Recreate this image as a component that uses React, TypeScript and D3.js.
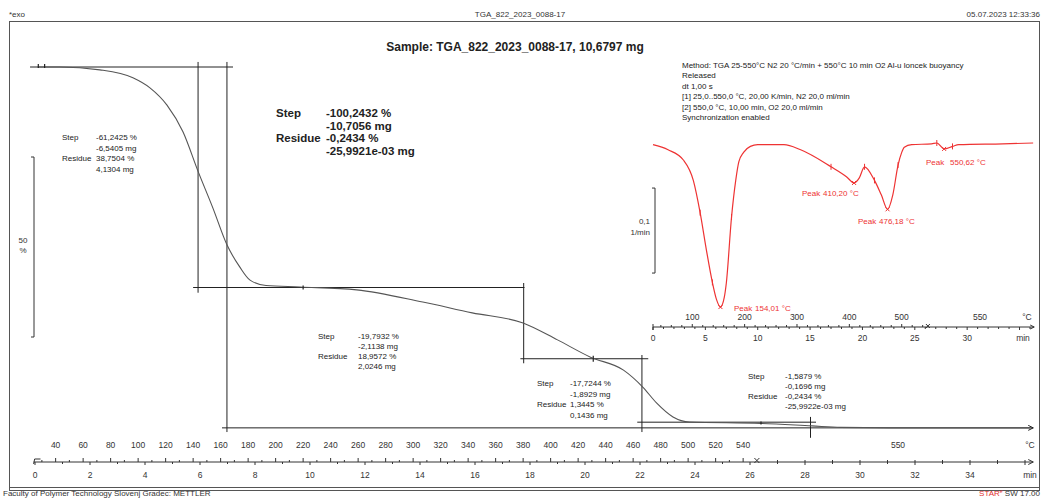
import React from 'react';
import * as d3 from 'd3';

// ---- TGA curve (time in min, mass in %)
const tgaTime = [0.1, 0.9, 2.36, 3.56, 4.18, 4.8, 5.38, 5.93, 6.47, 6.98, 7.45, 7.82, 8.4, 9.64, 11.7, 14.1, 15.9, 17.75, 19.0, 20.2, 21.4, 22.1, 22.6, 23.2, 23.8, 26.4, 28.25, 29.3, 31.5, 36.2];
const tgaMass = [100, 100, 99.2, 97.0, 94.2, 89.4, 82.0, 71.0, 60.8, 50.6, 44.4, 40.8, 39.3, 38.9, 38.1, 34.7, 31.7, 28.9, 24.2, 19.4, 15.8, 11.1, 6.7, 2.8, 1.4, 1.0, 0.3, -0.1, -0.24, -0.24];

// ---- DTG curve (time in min, rate in 1/min)
const dtgTime = [0, 1.44, 2.9, 3.85, 4.5, 5.1, 5.67, 6.06, 6.44, 6.8, 7.0, 7.5, 7.9, 8.2, 8.65, 9.3, 10, 12.5, 14.1, 17.0, 18.5, 19.2, 19.7, 20.2, 21.15, 21.8, 22.4, 22.9, 23.4, 23.75, 24.0, 24.7, 26.6, 27.1, 27.8, 28.6, 29.2, 33.4, 36.3];
const dtgRate = [-0.002, -0.008, -0.02, -0.044, -0.082, -0.126, -0.164, -0.184, -0.193, -0.182, -0.165, -0.087, -0.044, -0.022, -0.011, -0.004, -0.002, -0.002, -0.008, -0.028, -0.04, -0.047, -0.041, -0.028, -0.044, -0.061, -0.078, -0.061, -0.026, -0.011, -0.005, -0.002, -0.001, 0, -0.007, -0.004, -0.002, -0.001, 0];
const dtgMarkerIdx = [4, 6, 11, 19, 23, 24, 28, 33, 35];

const peakTemps = ['154,01 °C', '410,20 °C', '476,18 °C', '550,62 °C'];
const peakTimes = [6.44, 19.2, 22.4, 27.8];

// ---- axes
const mainTempLabels = [40, 60, 80, 100, 120, 140, 160, 180, 200, 220, 240, 260, 280, 300, 320, 340, 360, 380, 400, 420, 440, 460, 480, 500, 520, 540];
const mainMinLabels = [0, 2, 4, 6, 8, 10, 12, 14, 16, 18, 20, 22, 24, 26, 28, 30, 32, 34];
const insetTempLabels = [100, 200, 300, 400, 500];
const insetMinLabels = [0, 5, 10, 15, 20, 25, 30];

// ---- step evaluations
const stepSmall1 = ['-61,2425 %', '-6,5405 mg', '38,7504 %', '4,1304 mg'];
const stepBig = ['-100,2432 %', '-10,7056 mg', '-0,2434 %', '-25,9921e-03 mg'];
const stepSmall2 = ['-19,7932 %', '-2,1138 mg', '18,9572 %', '2,0246 mg'];
const stepSmall3 = ['-17,7244 %', '-1,8929 mg', '1,3445 %', '0,1436 mg'];
const stepSmall4 = ['-1,5879 %', '-0,1696 mg', '-0,2434 %', '-25,9922e-03 mg'];

const methodLines = [
  'Method: TGA 25-550°C N2 20 °C/min + 550°C 10 min O2 Al-u loncek buoyancy',
  'Released',
  'dt 1,00 s',
  '[1] 25,0..550,0 °C, 20,00 K/min, N2 20,0 ml/min',
  '[2] 550,0 °C, 10,00 min, O2 20,0 ml/min',
  'Synchronization enabled',
];

const timeOf = (T: number) => (T - 25) / 20;

const FONT = '"Liberation Sans", Arial, sans-serif';

function StepBlock({ x, y, vals, dx, lh, size, bold }: any) {
  const fw = bold ? 'bold' : 'normal';
  return (
    <g fontSize={size} fontWeight={fw} fill="#222">
      <text x={x} y={y}>Step</text>
      <text x={x} y={y + 2 * lh}>Residue</text>
      {vals.map((v: string, i: number) => (
        <text key={i} x={x + dx} y={y + i * lh}>{v}</text>
      ))}
    </g>
  );
}

export default function App() {
  const W = 1046, H = 498;
  const x = d3.scaleLinear().domain([0, 36]).range([35, 1025]);
  const y = d3.scaleLinear().domain([0, 100]).range([427, 67]);
  const xi = d3.scaleLinear().domain([0, 36]).range([653, 1030]);
  const yi = d3.scaleLinear().domain([-0.2, 0]).range([313, 143]);

  const tgaLine = d3.line<number>().x((d, i) => x(tgaTime[i])).y(d => y(d)).curve(d3.curveMonotoneX);
  const dtgLine = d3.line<number>().x((d, i) => xi(dtgTime[i])).y(d => yi(d)).curve(d3.curveMonotoneX);

  const axY = 462;
  const axYi = 327;
  const tMax = timeOf(550);

  const minorTemps = d3.range(30, 550, 10);
  const insetTemps = d3.range(40, 550, 20);

  return (
    <svg width={W} height={H} style={{ position: 'absolute', left: 0, top: 0, background: '#fff' }} fontFamily={FONT}>
      <rect x={0} y={0} width={W} height={H} fill="#fff" />
      {/* header */}
      <text x={9} y={17} fontSize={8} fill="#333">*exo</text>
      <text x={520} y={17} fontSize={8} fill="#333" textAnchor="middle">TGA_822_2023_0088-17</text>
      <text x={1040} y={17} fontSize={8} fill="#333" textAnchor="end">05.07.2023 12:33:36</text>
      {/* frame */}
      <rect x={9.5} y={21.5} width={1030} height={466} fill="none" stroke="#555" strokeWidth={1} />
      <line x1={9.5} x2={1039.5} y1={490.5} y2={490.5} stroke="#555" />
      <line x1={9.5} x2={9.5} y1={487} y2={491} stroke="#555" />
      <line x1={1039.5} x2={1039.5} y1={487} y2={491} stroke="#555" />
      <text x={3} y={496} fontSize={8} fill="#333">Faculty of Polymer Technology Slovenj Gradec: METTLER</text>
      <text x={1040} y={496} fontSize={8} fill="#333" textAnchor="end"><tspan fill="#e03030">STAR</tspan><tspan fill="#e03030" fontSize={5} dy={-3}>e</tspan><tspan dy={3}> SW 17.00</tspan></text>

      <text x={515} y={51} fontSize={12} fontWeight="bold" textAnchor="middle" fill="#222">Sample: TGA_822_2023_0088-17, 10,6797 mg</text>

      {/* 50 % scale bar */}
      <path d={`M31,${y(75)} H34 V${y(25)} H31`} fill="none" stroke="#333" />
      <text x={23} y={243} fontSize={8} fill="#333" textAnchor="middle">50</text>
      <text x={23} y={253} fontSize={8} fill="#333" textAnchor="middle">%</text>

      {/* step construction lines */}
      <g stroke="#222" strokeWidth={1} fill="none">
        <line x1={x(-0.18)} x2={x(7.2)} y1={y(100)} y2={y(100)} />
        <line x1={x(5.93)} x2={x(5.93)} y1={y(101.4)} y2={y(37.3)} />
        <line x1={x(6.98)} x2={x(6.98)} y1={y(101.4)} y2={y(-1.4)} />
        <line x1={x(5.75)} x2={x(17.8)} y1={y(38.75)} y2={y(38.75)} />
        <line x1={x(17.77)} x2={x(17.77)} y1={y(40)} y2={y(17.7)} />
        <line x1={x(17.65)} x2={x(22.3)} y1={y(18.96)} y2={y(18.96)} />
        <line x1={x(22.07)} x2={x(22.07)} y1={y(20)} y2={y(-1.4)} />
        <line x1={x(21.9)} x2={x(28.4)} y1={y(1.34)} y2={y(1.34)} />
        <line x1={x(28.2)} x2={x(28.2)} y1={y(2.8)} y2={y(-3)} />
        <line x1={x(6.8)} x2={x(36.3)} y1={y(-0.24)} y2={y(-0.24)} />
      </g>
      <path d={`M${x(36.3) - 5},${y(-0.24) - 2.5} L${x(36.3)},${y(-0.24)} L${x(36.3) - 5},${y(-0.24) + 2.5}`} fill="none" stroke="#222" />
      {/* TGA curve */}
      <path d={tgaLine(tgaMass) || ''} fill="none" stroke="#555" strokeWidth={1.1} />
      {/* markers */}
      <g stroke="#222" strokeWidth={1.2}>
        <line x1={x(0.12)} x2={x(0.12)} y1={y(100) - 3} y2={y(100) + 1} />
        <line x1={x(0.35)} x2={x(0.35)} y1={y(100) - 3} y2={y(100) + 1} />
        <line x1={x(9.75)} x2={x(9.75)} y1={y(38.75) - 2} y2={y(38.75) + 2} />
        <line x1={x(20.3)} x2={x(20.3)} y1={y(18.96) - 3} y2={y(18.96) + 3} />
        <line x1={x(26.4)} x2={x(26.4)} y1={y(1.0) - 2} y2={y(1.0) + 1} />
      </g>

      {/* step texts */}
      <g fontFamily={FONT}>
        <StepBlock x={62} y={140} vals={stepSmall1} dx={34} lh={10.7} size={8} />
        <StepBlock x={276} y={117} vals={stepBig} dx={50} lh={12.7} size={11.5} bold />
        <StepBlock x={318} y={339} vals={stepSmall2} dx={40} lh={10} size={8} />
        <StepBlock x={537} y={386} vals={stepSmall3} dx={33} lh={10.5} size={8} />
        <StepBlock x={748} y={379} vals={stepSmall4} dx={37} lh={10} size={8} />
      </g>

      {/* method text */}
      <g fontSize={8} fill="#222">
        {methodLines.map((l, i) => (
          <text key={i} x={682} y={68 + i * 10.4}>{l}</text>
        ))}
      </g>

      {/* DTG inset */}
      <path d={dtgLine(dtgRate) || ''} fill="none" stroke="#ee3333" strokeWidth={1.2} />
      <g stroke="#ee3333" strokeWidth={1}>
        {dtgMarkerIdx.map(i => (
          <line key={i} x1={xi(dtgTime[i])} x2={xi(dtgTime[i])} y1={yi(dtgRate[i]) - 3} y2={yi(dtgRate[i]) + 3} />
        ))}
        {peakTimes.map((t, i) => {
          const idx = dtgTime.indexOf(t);
          const py = yi(dtgRate[idx]);
          return <path key={i} d={`M${xi(t) - 2},${py - 2} L${xi(t) + 2},${py + 2} M${xi(t) + 2},${py - 2} L${xi(t) - 2},${py + 2}`} />;
        })}
      </g>
      <g fontSize={8} fill="#ee3333">
        <text x={734} y={311}>Peak</text><text x={755} y={311}>{peakTemps[0]}</text>
        <text x={802} y={196}>Peak</text><text x={823} y={196}>{peakTemps[1]}</text>
        <text x={858} y={224}>Peak</text><text x={879} y={224}>{peakTemps[2]}</text>
        <text x={926} y={165}>Peak</text><text x={950} y={165}>{peakTemps[3]}</text>
      </g>
      {/* DTG scale bar */}
      <path d={`M652,${yi(-0.053)} H655 V${yi(-0.153)} H652`} fill="none" stroke="#333" />
      <text x={650} y={224} fontSize={8} fill="#333" textAnchor="end">0,1</text>
      <text x={650} y={235} fontSize={8} fill="#333" textAnchor="end">1/min</text>

      {/* inset axis */}
      <g stroke="#333" strokeWidth={1}>
        <line x1={xi(0)} x2={xi(36.4)} y1={axYi} y2={axYi} />
        <path d={`M${xi(36.4) - 4},${axYi - 2} L${xi(36.4)},${axYi} L${xi(36.4) - 4},${axYi + 2}`} fill="none" />
        {d3.range(0, 37, 1).map(t => (
          <line key={'it' + t} x1={xi(t)} x2={xi(t)} y1={axYi} y2={axYi + (t % 5 === 0 ? 3 : 2)} />
        ))}
        {insetTemps.map(T => (
          <line key={'iT' + T} x1={xi(timeOf(T))} x2={xi(timeOf(T))} y1={axYi} y2={axYi - (T % 100 === 0 ? 3 : 2)} />
        ))}
        <path d={`M${xi(tMax) - 2},${axYi - 3} L${xi(tMax) + 2},${axYi + 1} M${xi(tMax) + 2},${axYi - 3} L${xi(tMax) - 2},${axYi + 1}`} fill="none" />
        <line x1={xi(0)} x2={xi(0)} y1={axYi - 3} y2={axYi + 3} />
      </g>
      <g fontSize={8.5} fill="#333" textAnchor="middle">
        {insetTempLabels.map(T => <text key={'itl' + T} x={xi(timeOf(T))} y={320}>{T}</text>)}
        <text x={980} y={320}>550</text>
        <text x={1027} y={320}>°C</text>
        {insetMinLabels.map(t => <text key={'iml' + t} x={xi(t)} y={341}>{t}</text>)}
        <text x={1023} y={341}>min</text>
      </g>

      {/* main axis */}
      <g stroke="#333" strokeWidth={1}>
        <line x1={x(-0.05)} x2={x(36.3)} y1={axY} y2={axY} />
        <path d={`M${x(36.3) - 5},${axY - 2.5} L${x(36.3)},${axY} L${x(36.3) - 5},${axY + 2.5}`} fill="none" />
        <path d={`M${x(-0.05)},${axY + 2} L${x(-0.05) + 1},${axY - 3} H${x(0.2)}`} fill="none" />
        {d3.range(0, 37, 1).map(t => (
          <line key={'t' + t} x1={x(t)} x2={x(t)} y1={t > 26 ? axY - 2 : axY} y2={axY + (t % 2 === 0 ? 3 : 2)} />
        ))}
        {minorTemps.map(T => (
          <line key={'T' + T} x1={x(timeOf(T))} x2={x(timeOf(T))} y1={axY} y2={axY - (T % 20 === 0 ? 4 : 2)} />
        ))}
        <path d={`M${x(tMax) - 2.5},${axY - 4} L${x(tMax) + 2.5},${axY + 1} M${x(tMax) + 2.5},${axY - 4} L${x(tMax) - 2.5},${axY + 1}`} fill="none" />
      </g>
      <g fontSize={8.5} fill="#333" textAnchor="middle">
        {mainTempLabels.map(T => <text key={'tl' + T} x={x(timeOf(T))} y={448}>{T}</text>)}
        <text x={898} y={448}>550</text>
        <text x={1030} y={448}>°C</text>
        {mainMinLabels.map(t => <text key={'ml' + t} x={x(t)} y={478}>{t}</text>)}
        <text x={1030} y={478}>min</text>
      </g>
    </svg>
  );
}
